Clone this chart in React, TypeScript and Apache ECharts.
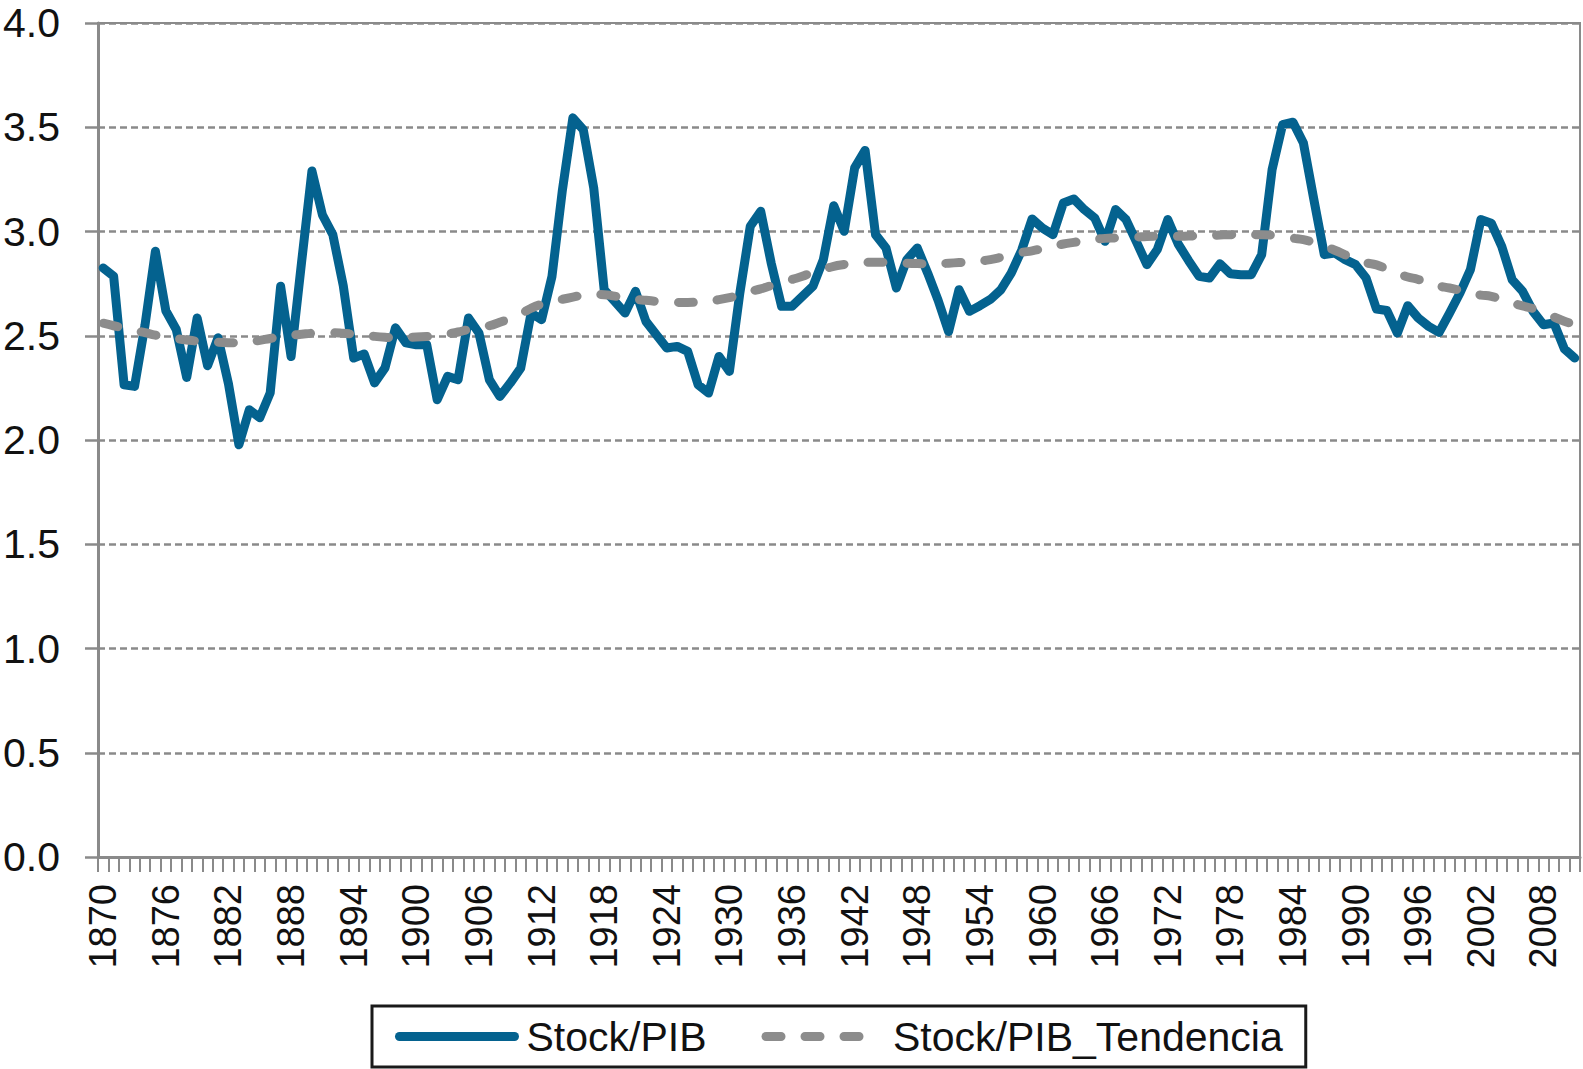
import React, { useEffect, useRef } from "react";
import * as echarts from "echarts";

const FIRST_YEAR = 1870;
const LAST_YEAR = 2011;
const years: string[] = [];
for (let y = FIRST_YEAR; y <= LAST_YEAR; y++) years.push(String(y));

const yTicks = [0, 0.5, 1.0, 1.5, 2.0, 2.5, 3.0, 3.5, 4.0];

const seriesNames = ["Stock/PIB", "Stock/PIB_Tendencia"];

const stockPib = [
  2.825, 2.785, 2.265, 2.257, 2.55, 2.905, 2.62, 2.53, 2.3, 2.585, // 1870-1879
  2.356, 2.49, 2.27, 1.977, 2.145, 2.107, 2.226, 2.737, 2.4, 2.85, // 1880-1889
  3.29, 3.08, 2.985, 2.74, 2.393, 2.413, 2.274, 2.346, 2.538, 2.466, // 1890-1899
  2.457, 2.457, 2.193, 2.305, 2.289, 2.585, 2.513, 2.289, 2.209, 2.273, // 1900-1909
  2.345, 2.609, 2.577, 2.785, 3.2, 3.545, 3.488, 3.209, 2.721, 2.665, // 1910-1919
  2.609, 2.713, 2.569, 2.505, 2.441, 2.449, 2.425, 2.265, 2.225, 2.401, // 1920-1929
  2.329, 2.705, 3.025, 3.097, 2.849, 2.641, 2.641, 2.689, 2.737, 2.865, // 1930-1939
  3.124, 3.001, 3.305, 3.389, 2.985, 2.921, 2.729, 2.865, 2.921, 2.8, // 1940-1949
  2.67, 2.52, 2.721, 2.617, 2.644, 2.674, 2.72, 2.8, 2.91, 3.06, // 1950-1959
  3.016, 2.985, 3.137, 3.156, 3.105, 3.065, 2.953, 3.105, 3.057, 2.95, // 1960-1969
  2.841, 2.914, 3.057, 2.94, 2.86, 2.785, 2.777, 2.845, 2.797, 2.793, // 1970-1979
  2.793, 2.889, 3.297, 3.512, 3.524, 3.424, 3.153, 2.889, 2.897, 2.865, // 1980-1989
  2.841, 2.777, 2.628, 2.621, 2.513, 2.644, 2.585, 2.545, 2.516, 2.609, // 1990-1999
  2.705, 2.817, 3.057, 3.04, 2.929, 2.769, 2.713, 2.617, 2.553, 2.561, // 2000-2009
  2.437, 2.393, // 2010-2011
];

const stockPibTrend = [
  2.56, 2.548, 2.537, 2.525, 2.515, 2.503, 2.495, 2.487, 2.48, 2.474, // 1870-1879
  2.47, 2.469, 2.467, 2.466, 2.47, 2.478, 2.487, 2.495, 2.502, 2.507, // 1880-1889
  2.512, 2.515, 2.515, 2.512, 2.507, 2.502, 2.497, 2.493, 2.49, 2.492, // 1890-1899
  2.494, 2.496, 2.498, 2.508, 2.518, 2.53, 2.54, 2.548, 2.565, 2.583, // 1900-1909
  2.605, 2.632, 2.652, 2.665, 2.675, 2.685, 2.695, 2.698, 2.697, 2.69, // 1910-1919
  2.682, 2.675, 2.67, 2.665, 2.661, 2.66, 2.66, 2.661, 2.665, 2.673, // 1920-1929
  2.683, 2.695, 2.712, 2.725, 2.74, 2.755, 2.77, 2.785, 2.805, 2.818, // 1930-1939
  2.833, 2.842, 2.849, 2.852, 2.853, 2.852, 2.849, 2.848, 2.846, 2.845, // 1940-1949
  2.845, 2.848, 2.851, 2.854, 2.858, 2.865, 2.876, 2.889, 2.9, 2.907, // 1950-1959
  2.918, 2.929, 2.94, 2.948, 2.955, 2.962, 2.967, 2.969, 2.971, 2.973, // 1960-1969
  2.976, 2.977, 2.977, 2.977, 2.978, 2.979, 2.98, 2.983, 2.985, 2.985, // 1970-1979
  2.985, 2.985, 2.982, 2.975, 2.968, 2.961, 2.947, 2.93, 2.91, 2.888, // 1980-1989
  2.866, 2.85, 2.84, 2.82, 2.8, 2.782, 2.77, 2.75, 2.738, 2.729, // 1990-1999
  2.718, 2.705, 2.695, 2.689, 2.673, 2.657, 2.643, 2.63, 2.61, 2.59, // 2000-2009
  2.57, 2.553, // 2010-2011
];

const FONT = "'Liberation Sans', Arial, Helvetica, sans-serif";
const BLUE = "#04628f";
const GREY_TREND = "#8c8c8c";
const GRID_GREY = "#8a8a8a";

export default function App() {
  const ref = useRef<HTMLDivElement>(null);

  useEffect(() => {
    document.body.style.margin = "0";
    if (!ref.current) return;
    const chart = echarts.init(ref.current, null, { renderer: "svg" });
    chart.setOption({
      animation: false,
      backgroundColor: "#ffffff",
      grid: {
        left: 96,
        right: 3,
        top: 23,
        bottom: 212,
        containLabel: false,
        show: true,
        borderColor: GRID_GREY,
        borderWidth: 2,
      },
      legend: {
        data: seriesNames,
        left: 372,
        top: 1006,
        orient: "horizontal",
        padding: [10, 23, 10, 23],
        itemGap: 55,
        itemWidth: 115,
        itemHeight: 2,
        borderColor: "#1a1a1a",
        borderWidth: 3,
        itemStyle: { opacity: 0, borderWidth: 0 },
        lineStyle: { width: 9, cap: "round" },
        textStyle: {
          fontFamily: FONT,
          fontSize: 41,
          color: "#111111",
          padding: [0, 0, 0, 7],
        },
      },
      xAxis: {
        type: "category",
        data: years,
        boundaryGap: true,
        axisLine: { show: true, lineStyle: { color: GRID_GREY, width: 3 } },
        axisTick: {
          show: true,
          interval: 0,
          length: 15,
          lineStyle: { color: GRID_GREY, width: 2 },
        },
        axisLabel: {
          interval: 5,
          rotate: 90,
          margin: 27,
          fontFamily: FONT,
          fontSize: 38,
          color: "#111111",
        },
        splitLine: { show: false },
      },
      yAxis: {
        type: "value",
        min: yTicks[0],
        max: yTicks[yTicks.length - 1],
        interval: 0.5,
        axisLine: { show: true, lineStyle: { color: GRID_GREY, width: 3 } },
        axisTick: {
          show: true,
          length: 13,
          lineStyle: { color: GRID_GREY, width: 2.5 },
        },
        axisLabel: {
          margin: 38,
          fontFamily: FONT,
          fontSize: 41,
          color: "#111111",
          formatter: (v: number) => v.toFixed(1),
        },
        splitLine: {
          show: true,
          lineStyle: { color: GRID_GREY, width: 2.5, type: [7, 4] },
        },
      },
      series: [
        {
          name: seriesNames[0],
          type: "line",
          data: stockPib,
          symbol: "none",
          showSymbol: false,
          smooth: false,
          z: 3,
          lineStyle: { color: BLUE, width: 9, cap: "round", join: "round" },
          itemStyle: { color: BLUE },
        },
        {
          name: seriesNames[1],
          type: "line",
          data: stockPibTrend,
          symbol: "none",
          showSymbol: false,
          smooth: true,
          z: 4,
          lineStyle: {
            color: GREY_TREND,
            width: 9,
            type: [15, 24],
            cap: "round",
            join: "round",
          },
          itemStyle: { color: GREY_TREND },
        },
      ],
    });
    return () => chart.dispose();
  }, []);

  return <div ref={ref} style={{ width: 1583, height: 1069 }} />;
}
